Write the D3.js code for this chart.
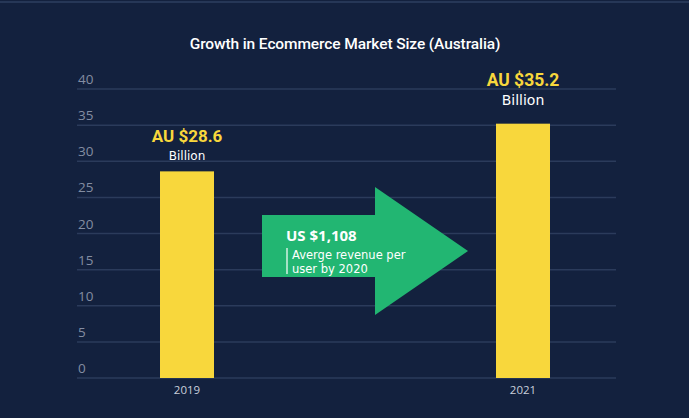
<!DOCTYPE html>
<html><head><meta charset="utf-8">
<script src="https://cdn.jsdelivr.net/npm/d3@7"></script>
<style>html,body{margin:0;padding:0;background:#13213e;}svg{display:block;}</style>
</head><body>
<script>
const categories = ["2019", "2021"];
const values = [28.6, 35.2];
const valueLabels = ["AU $28.6", "AU $35.2"];
const unitLabel = "Billion";
const yTicks = [0, 5, 10, 15, 20, 25, 30, 35, 40];
const title = "Growth in Ecommerce Market Size (Australia)";
const arrowHeadline = "US $1,108";
const arrowLines = ["Averge revenue per", "user by 2020"];

const W = 689, H = 418;
const svg = d3.select("body").append("svg").attr("width", W).attr("height", H);
svg.append("rect").attr("width", W).attr("height", H).attr("fill", "#13213e");
svg.append("line").attr("x1", 0).attr("x2", W).attr("y1", 2).attr("y2", 2)
  .attr("stroke", "#2e3f60").attr("stroke-width", 1.5);

const x = d3.scalePoint().domain(categories).range([187, 523]);
const y = d3.scaleLinear().domain([0, 40]).range([378, 89]);
const barW = 54;
const gridX0 = 77, gridX1 = 616;

svg.append("text").attr("x", 345).attr("y", 49).attr("text-anchor", "middle")
  .attr("fill", "#ffffff").attr("font-family", "Roboto").attr("font-weight", 500)
  .attr("font-size", 15.5).attr("letter-spacing", -0.1).text(title);

// grid
svg.selectAll(".grid").data(yTicks).join("line")
  .attr("x1", gridX0).attr("x2", gridX1)
  .attr("y1", d => y(d)).attr("y2", d => y(d))
  .attr("stroke", "#2b3b5b").attr("stroke-width", 1.5);
svg.selectAll(".tick").data(yTicks).join("text")
  .attr("x", 78).attr("y", d => y(d) - 5)
  .attr("fill", "#838da2").attr("font-family", "Open Sans").attr("font-size", 13.5)
  .text(d => d);

// bars
svg.selectAll(".bar").data(values).join("rect")
  .attr("x", (d, i) => x(categories[i]) - barW / 2)
  .attr("width", barW)
  .attr("y", d => y(d)).attr("height", d => y(0) - y(d))
  .attr("fill", "#f8d73c");

// year labels
svg.selectAll(".cat").data(categories).join("text")
  .attr("x", d => x(d)).attr("y", 394).attr("text-anchor", "middle")
  .attr("fill", "#c9cfdb").attr("font-family", "Open Sans").attr("font-size", 11.5).text(d => d);

// value labels
const lblSize = [17, 17.5];
const lblOff = [29, 38];
const unitGap = [18, 19];
const unitSize = [12, 14];
values.forEach((v, i) => {
  const cx = x(categories[i]);
  svg.append("text").attr("x", cx).attr("y", y(v) - lblOff[i]).attr("text-anchor", "middle")
    .attr("fill", "#f8d73c").attr("font-family", "Roboto").attr("font-weight", 700)
    .attr("font-size", lblSize[i]).text(valueLabels[i]);
  svg.append("text").attr("x", cx).attr("y", y(v) - lblOff[i] + unitGap[i]).attr("text-anchor", "middle")
    .attr("fill", "#ffffff").attr("font-family", "DejaVu Sans")
    .attr("font-size", unitSize[i]).text(unitLabel);
});

// arrow
const ax0 = 262, ax1 = 375, tip = 468;
const sTop = 215, sBot = 277, hTop = 187, hBot = 315, tipY = 251;
svg.append("path")
  .attr("d", `M${ax0},${sTop}L${ax1},${sTop}L${ax1},${hTop}L${tip},${tipY}L${ax1},${hBot}L${ax1},${sBot}L${ax0},${sBot}Z`)
  .attr("fill", "#22b672");
svg.append("text").attr("x", 286).attr("y", 241)
  .attr("fill", "#ffffff").attr("font-family", "Open Sans").attr("font-weight", 700)
  .attr("font-size", 15).text(arrowHeadline);
svg.append("line").attr("x1", 287).attr("x2", 287).attr("y1", 248).attr("y2", 274)
  .attr("stroke", "#ffffff").attr("stroke-width", 1.2);
arrowLines.forEach((t, i) => {
  svg.append("text").attr("x", 292).attr("y", 259 + i * 13.5)
    .attr("fill", "#ffffff").attr("font-family", "DejaVu Sans")
    .attr("font-size", 11.5).text(t);
});
</script>
</body></html>
